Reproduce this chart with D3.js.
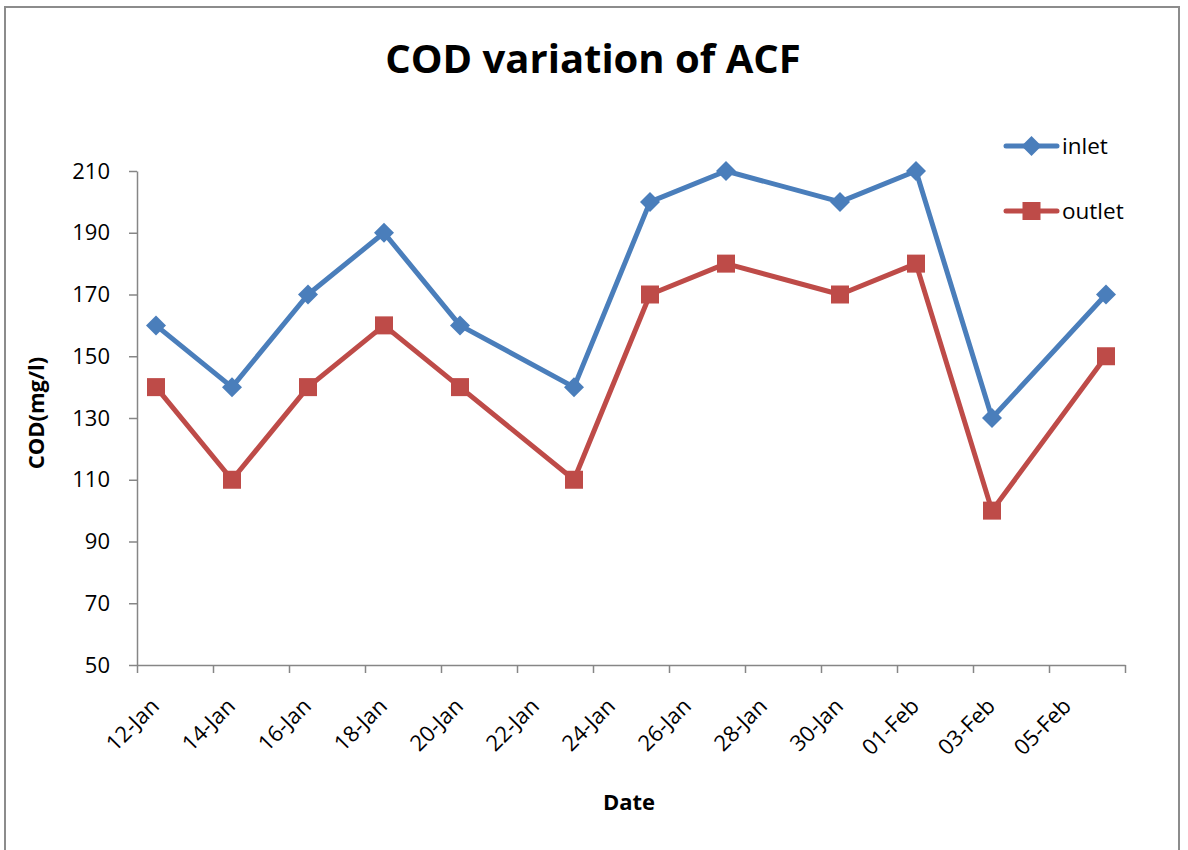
<!DOCTYPE html>
<html>
<head>
<meta charset="utf-8">
<script src="https://cdn.jsdelivr.net/npm/d3@7"></script>
<style>
  html, body { margin: 0; padding: 0; background: #fff; }
  svg { display: block; }
</style>
</head>
<body>
<svg id="chart" width="1188" height="850"></svg>
<script>
// Sampling dates (2014 is arbitrary, only day/month are shown)
const dates = ["2014-01-12", "2014-01-14", "2014-01-16", "2014-01-18", "2014-01-20", "2014-01-23",
               "2014-01-25", "2014-01-27", "2014-01-30", "2014-02-01", "2014-02-03", "2014-02-06"];
const inlet  = [160, 140, 170, 190, 160, 140, 200, 210, 200, 210, 130, 170];
const outlet = [140, 110, 140, 160, 140, 110, 170, 180, 170, 180, 100, 150];
const yTicks = [50, 70, 90, 110, 130, 150, 170, 190, 210];
const xDomain = ["2014-01-12", "2014-02-07"];

const FONT = "'Open Sans', 'Liberation Sans', sans-serif";
const parse = d3.utcParse("%Y-%m-%d");
const fmt = d3.utcFormat("%d-%b");

const svg = d3.select("#chart");

// outer chart frame
svg.append("rect")
  .attr("x", 5).attr("y", 7).attr("width", 1174).attr("height", 860)
  .attr("fill", "#fff").attr("stroke", "#8c8c8c").attr("stroke-width", 2);

const plot = { left: 137, right: 1125, top: 171, bottom: 665 };

const x = d3.scaleUtc()
  .domain(xDomain.map(parse))
  .range([plot.left, plot.right]);
const y = d3.scaleLinear()
  .domain([50, 210])
  .range([plot.bottom, plot.top]);

// each sample sits in the middle of its day
const xPos = d => x(d3.utcHour.offset(parse(d), 12));

// y axis
const yAxis = svg.append("g")
  .attr("transform", `translate(${plot.left},0)`)
  .call(d3.axisLeft(y).tickValues(yTicks).tickSize(8).tickSizeOuter(0).tickPadding(19));
yAxis.select(".domain").attr("stroke", "#868686").attr("stroke-width", 1.5);
yAxis.selectAll(".tick line").attr("stroke", "#868686").attr("stroke-width", 1.5);
yAxis.selectAll(".tick text")
  .attr("font-family", FONT).attr("font-size", 22).attr("fill", "#000");

// x axis: tick every 2 days, labels rotated
const xTickDates = d3.utcDay.range(parse(xDomain[0]), d3.utcDay.offset(parse(xDomain[1]), 1), 2);
const xAxis = svg.append("g")
  .attr("transform", `translate(0,${plot.bottom})`)
  .call(d3.axisBottom(x).tickValues(xTickDates).tickSize(8).tickSizeOuter(0).tickFormat(""));
xAxis.select(".domain").attr("stroke", "#868686").attr("stroke-width", 1.5);
xAxis.selectAll(".tick line").attr("stroke", "#868686").attr("stroke-width", 1.5);

svg.append("g").selectAll("text")
  .data(xTickDates.slice(0, -1))
  .join("text")
  .attr("transform", d => `translate(${x(d) + 18},${plot.bottom + 37}) rotate(-45)`)
  .attr("text-anchor", "end")
  .attr("dy", "0.35em")
  .attr("font-family", FONT).attr("font-size", 22).attr("fill", "#000")
  .text(d => fmt(d));

// series
const series = [
  { name: "inlet", values: inlet, color: "#4A7EBB", shape: "diamond" },
  { name: "outlet", values: outlet, color: "#BE4B48", shape: "square" }
];

const line = d3.line().x(d => d[0]).y(d => d[1]);

function drawMarker(g, shape, color, cx, cy) {
  if (shape === "diamond") {
    const r = 10;
    g.append("path")
      .attr("d", `M${cx},${cy - r}L${cx + r},${cy}L${cx},${cy + r}L${cx - r},${cy}Z`)
      .attr("fill", color);
  } else {
    const s = 18;
    g.append("rect")
      .attr("x", cx - s / 2).attr("y", cy - s / 2).attr("width", s).attr("height", s)
      .attr("fill", color);
  }
}

series.forEach(s => {
  const pts = dates.map((d, i) => [xPos(d), y(s.values[i])]);
  const g = svg.append("g");
  g.append("path")
    .attr("d", line(pts))
    .attr("fill", "none").attr("stroke", s.color)
    .attr("stroke-width", 5).attr("stroke-linejoin", "round").attr("stroke-linecap", "round");
  pts.forEach(p => drawMarker(g, s.shape, s.color, p[0], p[1]));
});

// legend
series.forEach((s, i) => {
  const ly = 146 + i * 65;
  const g = svg.append("g");
  g.append("line")
    .attr("x1", 1006).attr("x2", 1057).attr("y1", ly).attr("y2", ly)
    .attr("stroke", s.color).attr("stroke-width", 5).attr("stroke-linecap", "round");
  drawMarker(g, s.shape, s.color, 1031.5, ly);
  g.append("text")
    .attr("x", 1062).attr("y", ly).attr("dy", "0.35em")
    .attr("font-family", FONT).attr("font-size", 22.5).attr("fill", "#000")
    .text(s.name);
});

// titles
svg.append("text")
  .attr("x", 593).attr("y", 73)
  .attr("text-anchor", "middle")
  .attr("font-family", FONT).attr("font-size", 40).attr("font-weight", "bold").attr("fill", "#000")
  .text("COD variation of ACF");

svg.append("text")
  .attr("x", 629).attr("y", 810)
  .attr("text-anchor", "middle")
  .attr("font-family", FONT).attr("font-size", 22).attr("font-weight", "bold").attr("fill", "#000")
  .text("Date");

svg.append("text")
  .attr("transform", "translate(44,413) rotate(-90)")
  .attr("text-anchor", "middle")
  .attr("font-family", FONT).attr("font-size", 22).attr("font-weight", "bold").attr("fill", "#000")
  .text("COD(mg/l)");
</script>
</body>
</html>
